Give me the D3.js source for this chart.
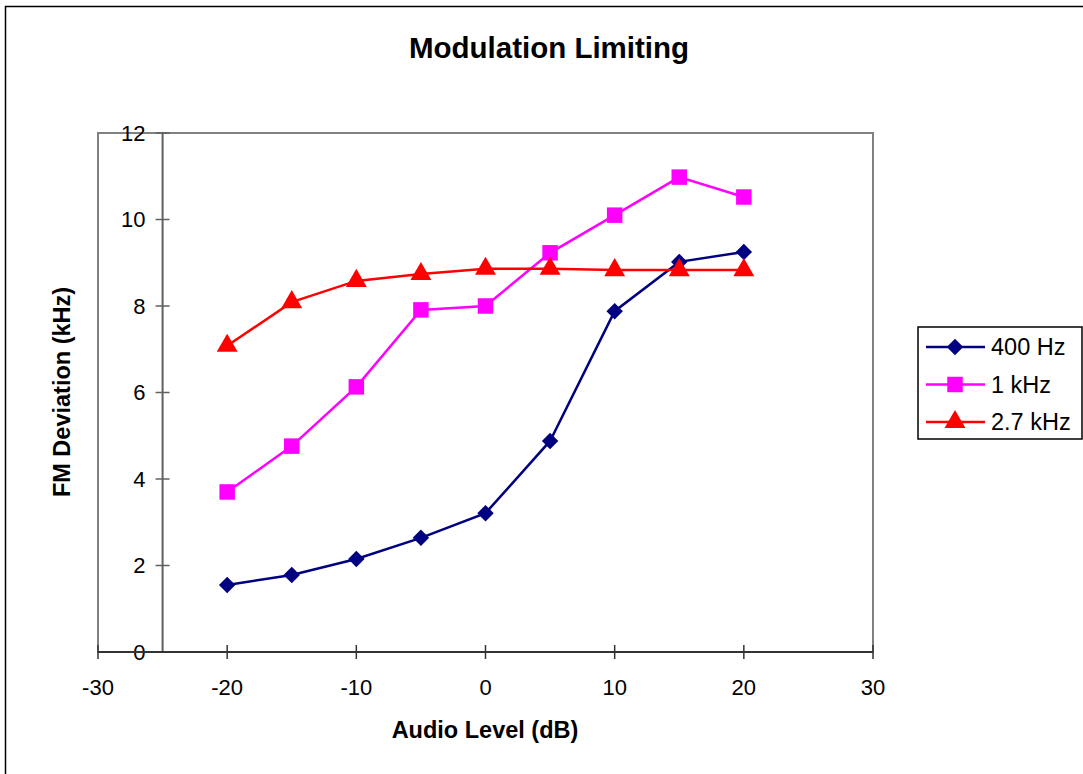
<!DOCTYPE html>
<html><head><meta charset="utf-8">
<script src="https://cdn.jsdelivr.net/npm/d3@7/dist/d3.min.js"></script>
<style>body{margin:0;background:#fff}svg{display:block}text{font-family:"Liberation Sans",Arial,sans-serif}</style>
</head><body><svg id="c" width="1083" height="774"></svg>
<script>
const xValues = [-20,-15,-10,-5,0,5,10,15,20];
const s400 = [1.55,1.78,2.15,2.64,3.21,4.88,7.88,9.02,9.25];
const s1k = [3.70,4.76,6.13,7.91,8.00,9.23,10.10,10.98,10.52];
const s27k = [7.08,8.09,8.58,8.74,8.86,8.86,8.83,8.83,8.83];
const seriesNames = ["400 Hz","1 kHz","2.7 kHz"];
const xTicks = [-30,-20,-10,0,10,20,30];
const yTicks = [0,2,4,6,8,10,12];

const svg = d3.select("#c");
const x = d3.scaleLinear().domain([-30,30]).range([98,873]);
const y = d3.scaleLinear().domain([0,12]).range([652,133]);

svg.append("rect").attr("x",5.5).attr("y",6.5).attr("width",1100).attr("height",800)
  .attr("fill","none").attr("stroke","#000").attr("stroke-width",1.5);

svg.append("text").attr("x",549).attr("y",58).attr("text-anchor","middle")
  .attr("font-size",29.5).attr("font-weight","bold").text("Modulation Limiting");

// plot area border
svg.append("rect").attr("x",x(-30)).attr("y",y(12)).attr("width",x(30)-x(-30)).attr("height",y(0)-y(12))
  .attr("fill","none").attr("stroke","#808080").attr("stroke-width",2);

// y axis at x=-25
const yg = svg.append("g").attr("transform",`translate(${x(-25)},0)`);
yg.append("line").attr("x1",0).attr("x2",0).attr("y1",y(0)).attr("y2",y(12)).attr("stroke","#606060").attr("stroke-width",2);
yTicks.forEach(v=>{
  yg.append("line").attr("x1",-7).attr("x2",7).attr("y1",y(v)).attr("y2",y(v)).attr("stroke","#606060").attr("stroke-width",1.5);
  yg.append("text").attr("x",-17).attr("y",y(v)).attr("dy","0.36em").attr("text-anchor","end")
    .attr("font-size",22).text(v);
});

// x axis at y=0
const xg = svg.append("g").attr("transform",`translate(0,${y(0)})`);
xg.append("line").attr("x1",x(-30)).attr("x2",x(30)).attr("y1",0).attr("y2",0).attr("stroke","#333").attr("stroke-width",2);
xTicks.forEach(v=>{
  xg.append("line").attr("x1",x(v)).attr("x2",x(v)).attr("y1",-7).attr("y2",7).attr("stroke","#333").attr("stroke-width",1.5);
  xg.append("text").attr("x",x(v)).attr("y",43).attr("text-anchor","middle").attr("font-size",22).text(v);
});

svg.append("text").attr("x",485).attr("y",738).attr("text-anchor","middle")
  .attr("font-size",23.5).attr("font-weight","bold").text("Audio Level (dB)");
svg.append("text").attr("transform","translate(70,392) rotate(-90)").attr("text-anchor","middle")
  .attr("font-size",23.5).attr("font-weight","bold").text("FM Deviation (kHz)");

const colors = ["#000080","#FF00FF","#FF0000"];
const syms = [d3.symbolSquare, d3.symbolSquare, d3.symbolTriangle];
const symSizes = [135, 240, 190];
const rot = [" rotate(45)", "", ""];
const all = [s400,s1k,s27k];
const line = d3.line().x(d=>x(d[0])).y(d=>y(d[1]));
all.forEach((s,i)=>{
  const pts = xValues.map((xv,j)=>[xv,s[j]]);
  svg.append("path").attr("d",line(pts)).attr("fill","none").attr("stroke",colors[i]).attr("stroke-width",2.5);
  svg.selectAll(null).data(pts).enter().append("path")
    .attr("d",d3.symbol().type(syms[i]).size(symSizes[i]))
    .attr("transform",d=>`translate(${x(d[0])},${y(d[1])})${rot[i]}`)
    .attr("fill",colors[i]);
});

// legend
const lg = svg.append("g");
lg.append("rect").attr("x",918).attr("y",327).attr("width",164).attr("height",112)
  .attr("fill","#fff").attr("stroke","#000").attr("stroke-width",1.5);
seriesNames.forEach((n,i)=>{
  const yy = 347 + i*37.5;
  lg.append("line").attr("x1",926).attr("x2",985).attr("y1",yy).attr("y2",yy).attr("stroke",colors[i]).attr("stroke-width",2.5);
  lg.append("path").attr("d",d3.symbol().type(syms[i]).size(symSizes[i])).attr("transform",`translate(955,${yy})${rot[i]}`).attr("fill",colors[i]);
  lg.append("text").attr("x",991).attr("y",yy).attr("dy","0.36em").attr("font-size",23.5).text(n);
});
</script></body></html>
